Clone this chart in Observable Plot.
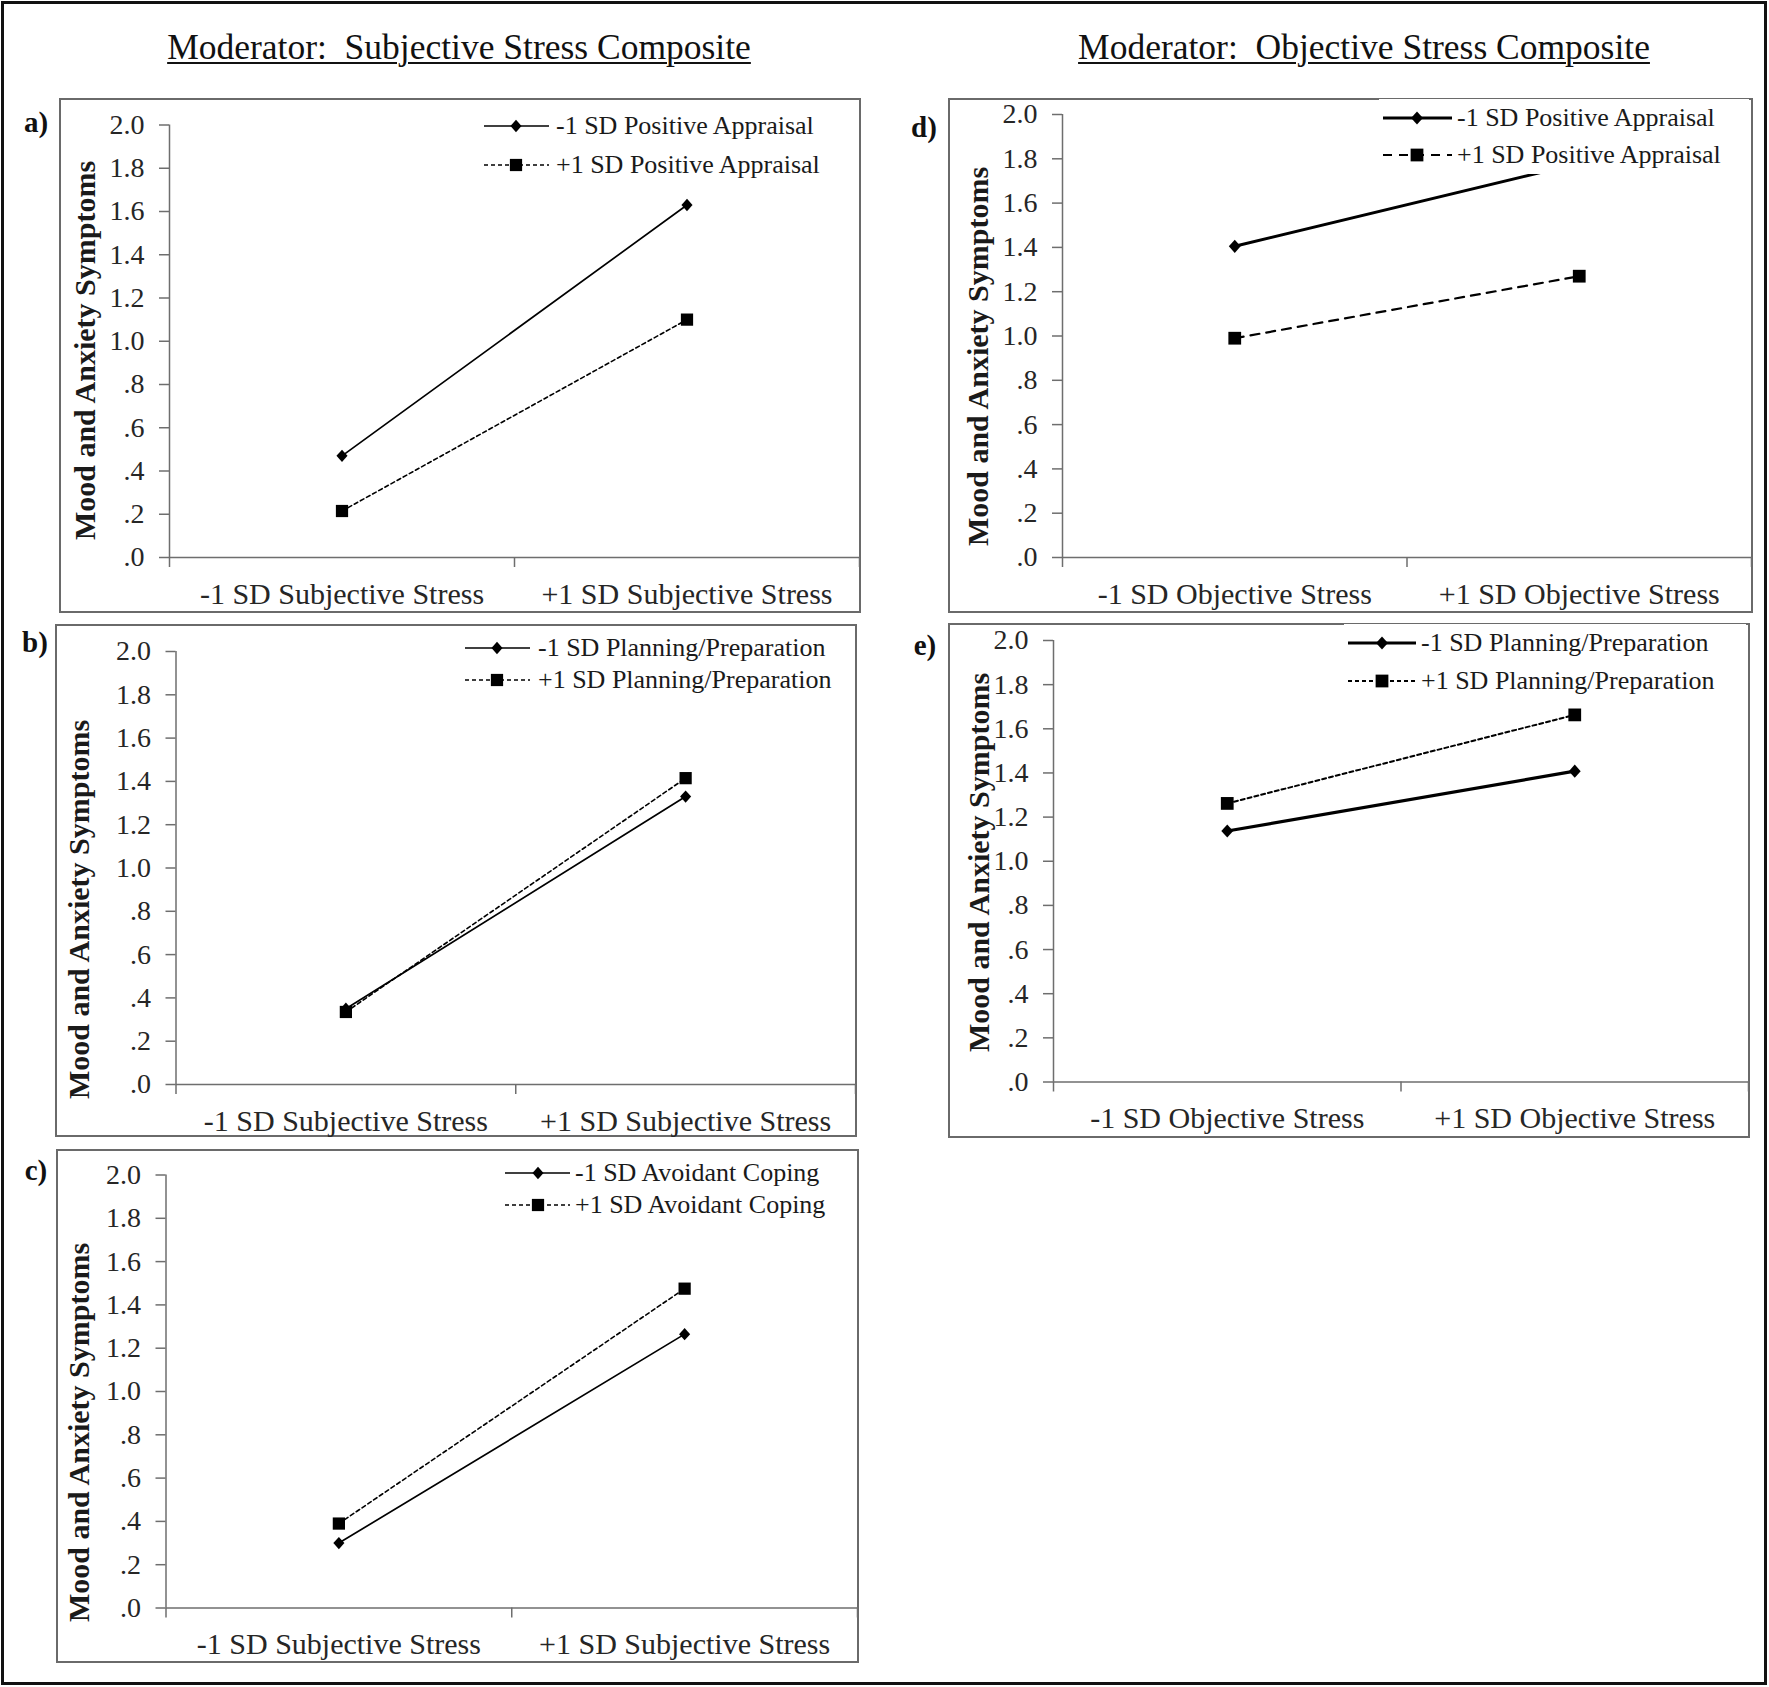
<!DOCTYPE html>
<html>
<head>
<meta charset="utf-8">
<script src="https://cdn.jsdelivr.net/npm/d3@7"></script>
<script src="https://cdn.jsdelivr.net/npm/@observablehq/plot@0.6"></script>
<style>
  body { margin: 0; background: #fff; }
  #fig { position: relative; width: 1769px; height: 1687px; background: #fff;
         font-family: "Liberation Serif", "Times New Roman", serif; color: #1a1a1a; overflow: hidden; }
  .outer { position: absolute; left: 1px; top: 1px; width: 1766px; height: 1684px;
           border: 3px solid #111; box-sizing: border-box; }
  .title { position: absolute; top: 27px; font-size: 35.5px; line-height: 40px; white-space: pre;
           text-decoration: underline; text-decoration-thickness: 1.5px; text-underline-offset: 3px;
           transform: translateX(-50%); color: #111; }
  .panel { position: absolute; border: 2px solid #6a6a6a; box-sizing: border-box; background: #fff; }
  .panel svg { position: absolute; left: 0; top: 0; }
  .plabel { position: absolute; font-weight: bold; font-size: 29px; line-height: 29px;
            transform: translate(-50%, -50%); color: #111; }
  .legend { position: absolute; background: #fff; }
  .lrow { position: absolute; left: 0; display: flex; align-items: center; height: 30px;
          font-size: 26px; line-height: 30px; white-space: pre; color: #1a1a1a; }
  .lrow svg { display: block; }
  svg text { white-space: pre; }
</style>
</head>
<body>
<div id="fig"></div>
<script>
// ---------------- DATA ----------------
const subjCats = ["-1 SD Subjective Stress", "+1 SD Subjective Stress"];
const objCats = ["-1 SD Objective Stress", "+1 SD Objective Stress"];
const yTicks = [0, 0.2, 0.4, 0.6, 0.8, 1.0, 1.2, 1.4, 1.6, 1.8, 2.0];
const yTitle = "Mood and Anxiety Symptoms";
const titleLeft = "Moderator:  Subjective Stress Composite";
const titleRight = "Moderator:  Objective Stress Composite";

const aNames = ["-1 SD Positive Appraisal", "+1 SD Positive Appraisal"];
const aLow = [0.47, 1.63];
const aHigh = [0.215, 1.10];

const bNames = ["-1 SD Planning/Preparation", "+1 SD Planning/Preparation"];
const bLow = [0.35, 1.33];
const bHigh = [0.335, 1.415];

const cNames = ["-1 SD Avoidant Coping", "+1 SD Avoidant Coping"];
const cLow = [0.30, 1.265];
const cHigh = [0.39, 1.475];

const dNames = ["-1 SD Positive Appraisal", "+1 SD Positive Appraisal"];
const dLow = [1.405, 1.78];
const dHigh = [0.99, 1.27];

const eNames = ["-1 SD Planning/Preparation", "+1 SD Planning/Preparation"];
const eLow = [1.137, 1.408];
const eHigh = [1.262, 1.663];

// ---------------- STYLE / LAYOUT ----------------
const FONT = '"Liberation Serif", "Times New Roman", serif';
const AX = "#6e6e6e";
const TXT = "#262626";
const BW = 2;

const diamondSym = {
  draw(ctx, size) {
    const h = Math.sqrt(size) * 0.62, w = h * 0.9;
    ctx.moveTo(0, -h); ctx.lineTo(w, 0); ctx.lineTo(0, h); ctx.lineTo(-w, 0); ctx.closePath();
  }
};

const fig = document.getElementById("fig");

function el(tag, cls, css, text) {
  const e = document.createElement(tag);
  if (cls) e.className = cls;
  if (css) Object.assign(e.style, css);
  if (text != null) e.textContent = text;
  return e;
}

fig.appendChild(el("div", "outer"));
fig.appendChild(el("div", "title", {left: "459px"}, titleLeft));
fig.appendChild(el("div", "title", {left: "1364px"}, titleRight));

const panels = [
  {id: "a)", lab: [36, 122], L: 59, T: 98, R: 861, B: 613, axisX: 169, y2: 124.5, y0: 557,
   cats: subjCats, names: aNames, low: aLow, high: aHigh, ytc: [85, 350],
   lw: 1.7, dw: 1.6, dash: "4,3", rd: 5.6, rs: 6.9,
   leg: {rows: [125.5, 165], sw: [484, 549], mk: 516, text: 556}},
  {id: "b)", lab: [35, 642], L: 55, T: 624, R: 857, B: 1137, axisX: 175.5, y2: 651, y0: 1084,
   cats: subjCats, names: bNames, low: bLow, high: bHigh, ytc: [79, 909],
   lw: 1.7, dw: 1.6, dash: "4,3", rd: 5.6, rs: 6.9,
   leg: {rows: [648, 680], sw: [465, 530], mk: 497, text: 538}},
  {id: "c)", lab: [36, 1170], L: 56, T: 1149, R: 859, B: 1663, axisX: 165.5, y2: 1174.5, y0: 1607.5,
   cats: subjCats, names: cNames, low: cLow, high: cHigh, ytc: [79, 1432],
   lw: 1.7, dw: 1.6, dash: "4,3", rd: 5.6, rs: 6.9,
   leg: {rows: [1173, 1205], sw: [505, 570], mk: 538, text: 575}},
  {id: "d)", lab: [924, 127], L: 948, T: 98, R: 1753, B: 613, axisX: 1062, y2: 114, y0: 557,
   cats: objCats, names: dNames, low: dLow, high: dHigh, ytc: [978, 356],
   lw: 3, dw: 2.2, dash: "9,7", rd: 6, rs: 7.2,
   leg: {rows: [118, 155], sw: [1383, 1452], mk: 1417, text: 1457}},
  {id: "e)", lab: [925, 645], L: 948, T: 623, R: 1750, B: 1138, axisX: 1053, y2: 640, y0: 1081.5,
   cats: objCats, names: eNames, low: eLow, high: eHigh, ytc: [979, 862],
   lw: 3.2, dw: 2, dash: "4,3", rd: 6, rs: 7.2,
   leg: {rows: [643, 681], sw: [1348, 1416], mk: 1382, text: 1421}}
];

const fmt = d => d3.format(".1f")(d).replace(/^0/, "");

function drawPanel(p) {
  const W = p.R - p.L, H = p.B - p.T;
  const iw = W - 2 * BW, ih = H - 2 * BW;
  const ml = p.axisX - (p.L + BW);
  const mt = p.y2 - (p.T + BW);
  const mb = (p.B - BW) - p.y0;

  const rows = [];
  [p.low, p.high].forEach((vals, si) =>
    vals.forEach((v, i) => rows.push({series: p.names[si], si, cat: p.cats[i], pos: i + 0.5, value: v})));
  const low = rows.filter(r => r.si === 0), high = rows.filter(r => r.si === 1);

  const plot = Plot.plot({
    width: iw, height: ih,
    marginLeft: ml, marginRight: 0, marginTop: mt, marginBottom: mb,
    style: {fontFamily: FONT, fontSize: "28px", color: TXT, background: "transparent", overflow: "visible"},
    x: {domain: [0, 2]},
    y: {domain: [0, 2]},
    marks: [
      Plot.ruleY([0], {stroke: AX, strokeWidth: 1.5}),
      Plot.ruleX([0], {stroke: AX, strokeWidth: 1.5}),
      Plot.axisY(yTicks, {tickSize: 10, tickPadding: 15, tickFormat: fmt, stroke: AX, strokeWidth: 1.5,
                          fill: TXT, label: null, fontSize: 28}),
      Plot.axisX([0, 1, 2], {tickSize: 10, tickFormat: () => "", stroke: AX, strokeWidth: 1.5, label: null}),
      Plot.axisX([0.5, 1.5], {tickSize: 0, tickPadding: 25, tickFormat: d => p.cats[Math.floor(d)],
                              fill: TXT, label: null, fontSize: 30}),
      Plot.text([yTitle], {text: d => d, frameAnchor: "left", textAnchor: "middle", lineAnchor: "middle",
                           rotate: -90,
                           dx: p.ytc[0] - p.axisX, dy: p.ytc[1] - (p.y2 + p.y0) / 2,
                           fontWeight: "bold", fontSize: 30, fill: "#1a1a1a"}),
      Plot.line(low, {x: "pos", y: "value", stroke: "#000", strokeWidth: p.lw}),
      Plot.line(high, {x: "pos", y: "value", stroke: "#000", strokeWidth: p.dw, strokeDasharray: p.dash}),
      Plot.dot(low, {x: "pos", y: "value", symbol: diamondSym, r: p.rd, fill: "#000", stroke: "none"}),
      Plot.dot(high, {x: "pos", y: "value", symbol: d3.symbolSquare, r: p.rs, fill: "#000", stroke: "none"})
    ]
  });

  const wrap = el("div", "panel", {left: p.L + "px", top: p.T + "px", width: W + "px", height: H + "px"});
  wrap.appendChild(plot);
  fig.appendChild(wrap);

  fig.appendChild(el("div", "plabel", {left: p.lab[0] + "px", top: p.lab[1] + "px"}, p.id));

  // legend
  const lg = p.leg;
  const bx = lg.sw[0] - 4, by = lg.rows[0] - 19;
  const box = el("div", "legend", {left: bx + "px", top: by + "px",
    width: (p.R - BW - 2 - bx) + "px", height: (lg.rows[1] + 19 - by) + "px"});
  p.names.forEach((name, si) => {
    const row = el("div", "lrow", {top: (lg.rows[si] - 15 - by) + "px", left: "4px"});
    const sw = lg.text - lg.sw[0];
    const svg = d3.create("svg").attr("width", sw).attr("height", 30);
    const line = svg.append("line").attr("x1", 0).attr("x2", lg.sw[1] - lg.sw[0])
      .attr("y1", 15).attr("y2", 15).attr("stroke", "#000")
      .attr("stroke-width", si === 0 ? p.lw : p.dw);
    if (si === 1) line.attr("stroke-dasharray", p.dash);
    const sym = si === 0 ? diamondSym : d3.symbolSquare;
    const r = si === 0 ? p.rd : p.rs;
    svg.append("path").attr("d", d3.symbol(sym, Math.PI * r * r)())
      .attr("transform", `translate(${lg.mk - lg.sw[0]},15)`).attr("fill", "#000");
    row.appendChild(svg.node());
    row.appendChild(el("span", null, null, name));
    box.appendChild(row);
  });
  fig.appendChild(box);
}

panels.forEach(drawPanel);
</script>
</body>
</html>
